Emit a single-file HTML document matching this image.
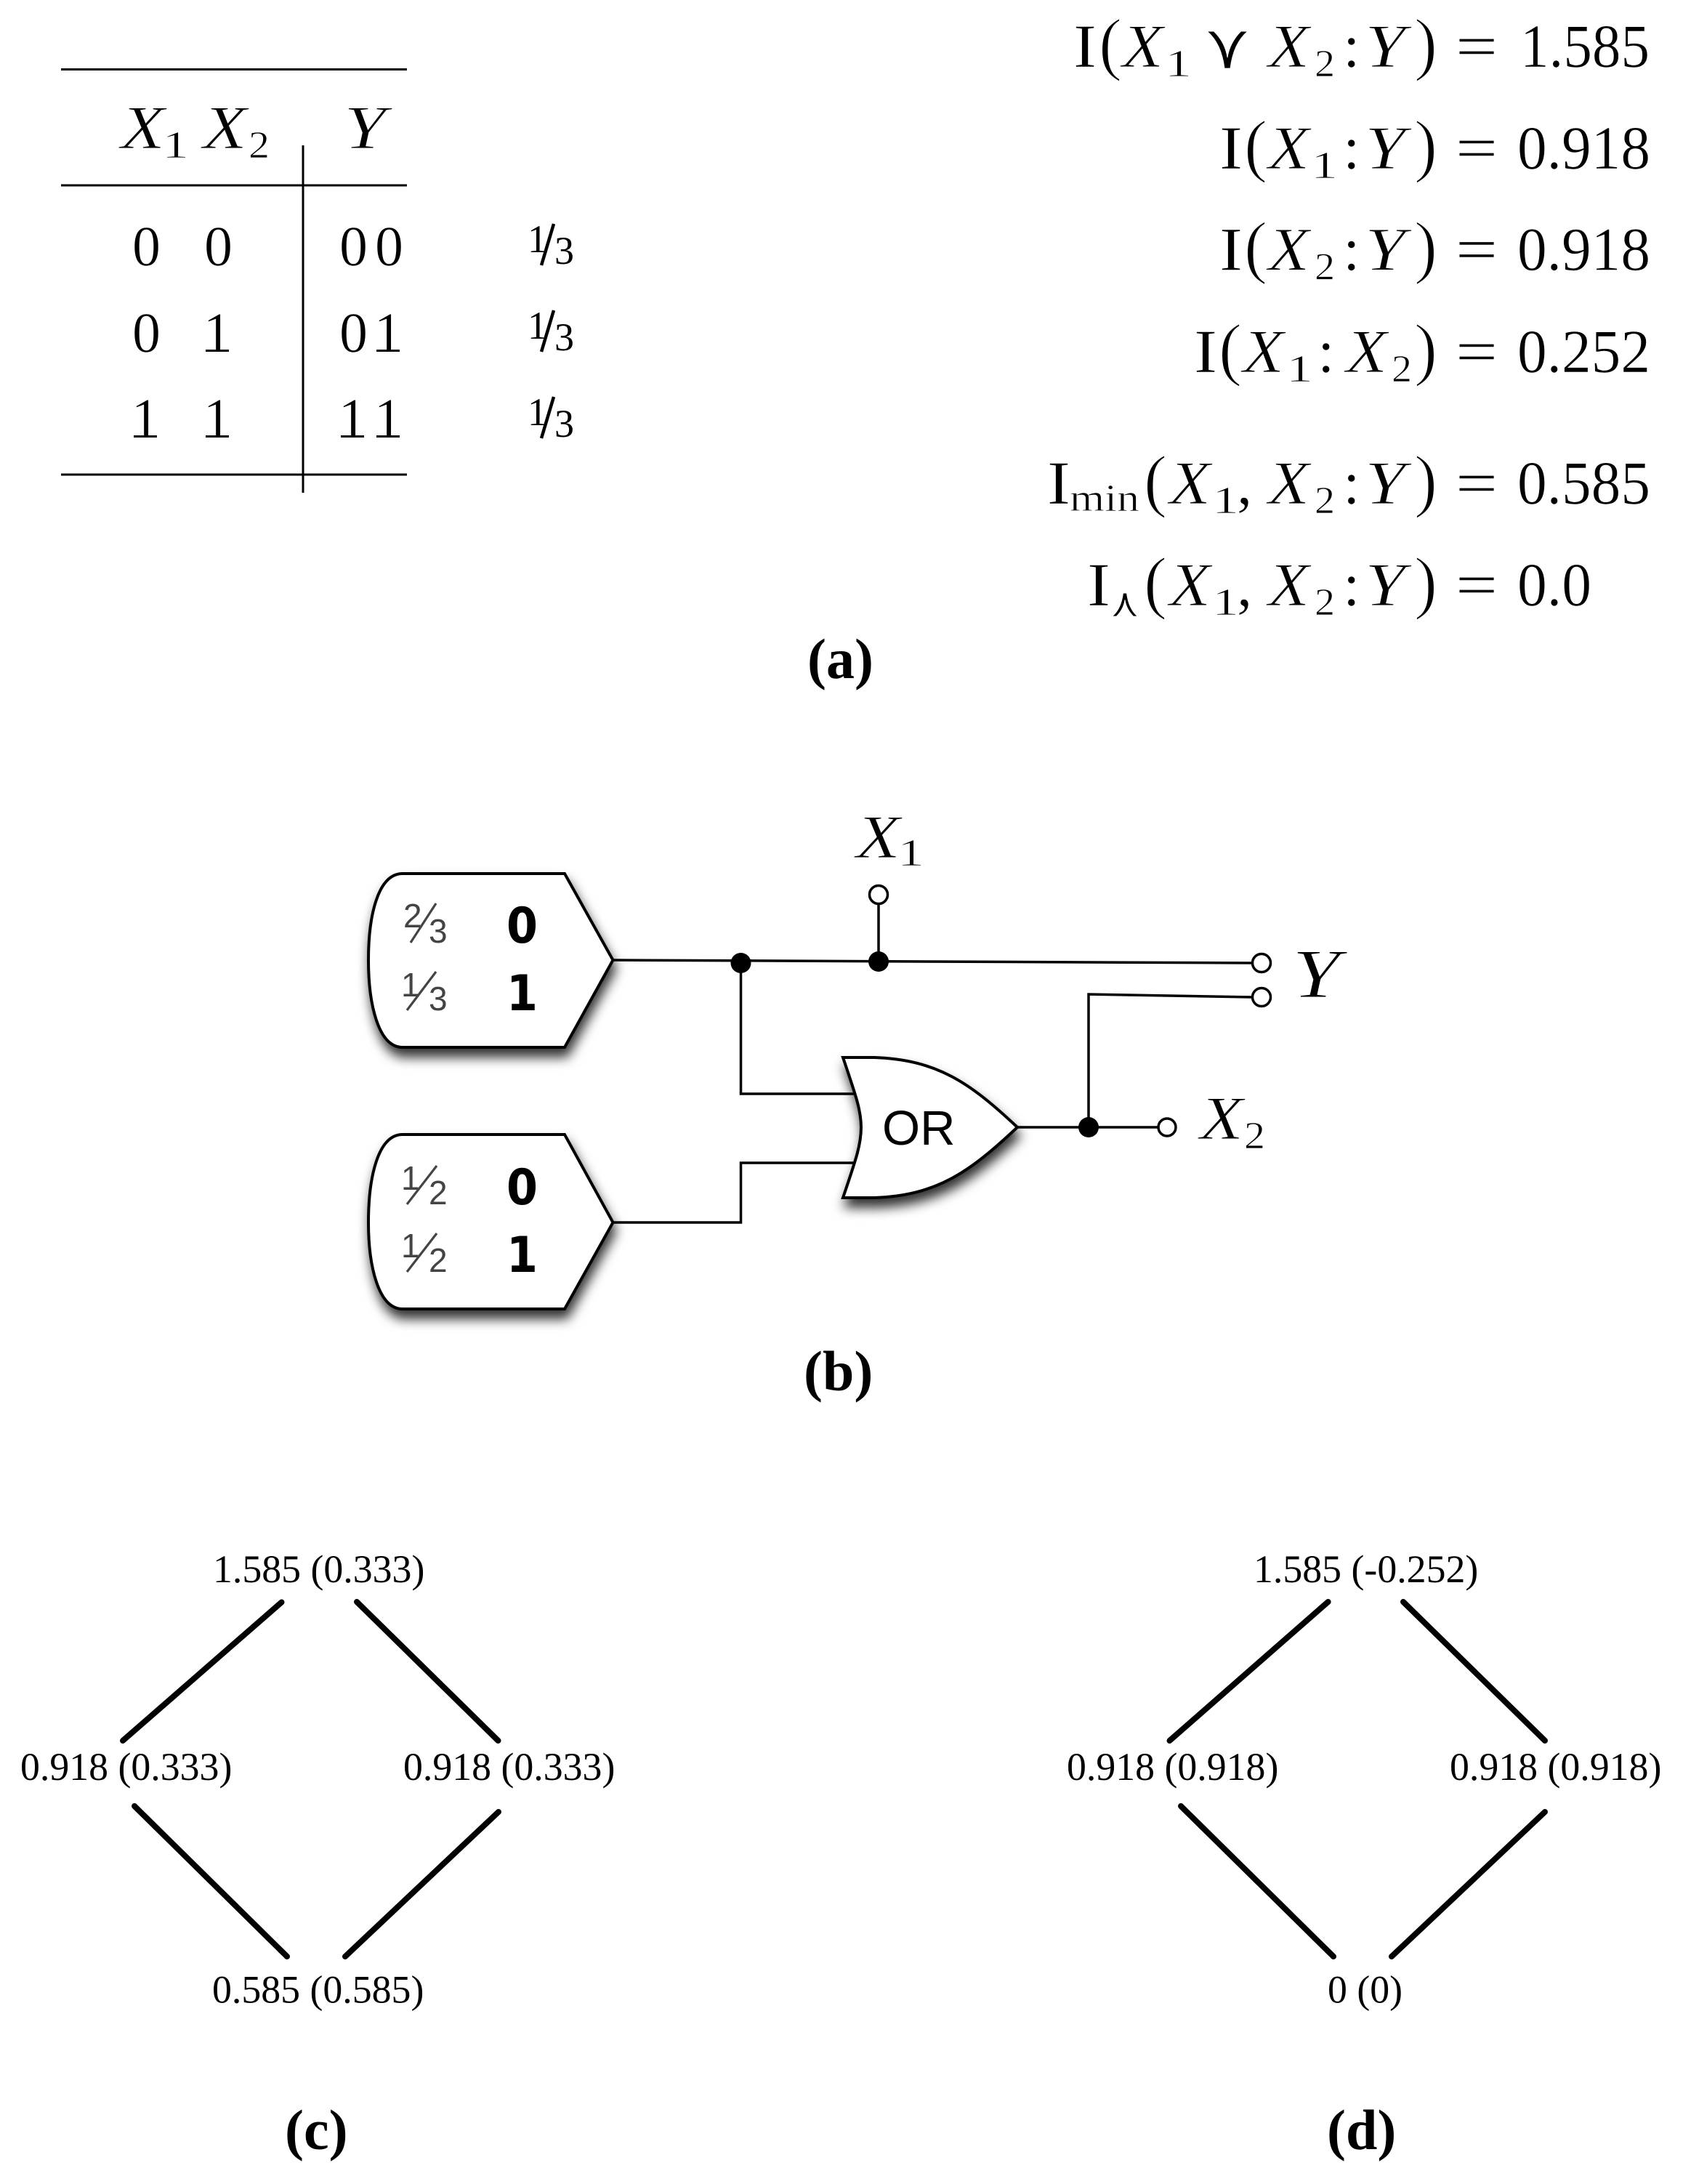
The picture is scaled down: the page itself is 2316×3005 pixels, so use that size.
<!DOCTYPE html>
<html><head><meta charset="utf-8"><style>
html,body{margin:0;padding:0;background:#fff}
svg{display:block}
text{font-family:"Liberation Serif",serif;fill:#000}
.m{font-size:85px;stroke:#fff;stroke-width:.6px}
.i{font-size:85px;font-style:italic;stroke:#fff;stroke-width:1.1px}
.s{font-size:53px;stroke:#fff;stroke-width:.8px}
.p{font-size:96px;stroke:#fff;stroke-width:1.6px}
.t{font-size:78px;stroke:#fff;stroke-width:.6px}
.l{font-size:53.8px}.b{font-size:78px;font-weight:bold}
.f{font-size:54px}
.g{font-family:"Liberation Sans",sans-serif;font-size:46px;fill:#444}
.h{font-family:"DejaVu Sans",sans-serif;font-size:68px;font-weight:bold}
.c{font-family:"DejaVu Sans",sans-serif;stroke:#fff;stroke-width:.8px}
.w{fill:none;stroke:#000;stroke-width:3.5}
.o{fill:#fff;stroke:#000;stroke-width:3.5}
.e{stroke:#000;stroke-width:8;stroke-linecap:round}
</style></head><body>
<svg width="2316" height="3005" viewBox="0 0 2316 3005" xmlns="http://www.w3.org/2000/svg">
<defs><filter id="sh" x="-20%" y="-20%" width="150%" height="150%"><feDropShadow dx="3" dy="12" stdDeviation="8" flood-color="#000" flood-opacity=".8"/></filter></defs>
<rect width="2316" height="3005" fill="#fff"/>

<!-- table -->
<g stroke="#000" stroke-width="3">
<line x1="84" y1="95.5" x2="560" y2="95.5"/>
<line x1="84" y1="255" x2="560" y2="255"/>
<line x1="84" y1="653" x2="560" y2="653"/>
<line x1="417" y1="200" x2="417" y2="678"/>
</g>
<text class="i" x="166" y="204" textLength="61" lengthAdjust="spacingAndGlyphs">X</text>
<text class="s" x="223" y="217" textLength="37" lengthAdjust="spacingAndGlyphs">1</text>
<text class="i" x="279" y="204" textLength="61" lengthAdjust="spacingAndGlyphs">X</text>
<text class="s" x="342" y="217" textLength="29" lengthAdjust="spacingAndGlyphs">2</text>
<text class="i" x="473" y="204" textLength="58" lengthAdjust="spacingAndGlyphs">Y</text>

<text class="t" x="182" y="365">0</text>
<text class="t" x="281" y="365">0</text>
<text class="t" x="467" y="365">0</text>
<text class="t" x="516" y="365">0</text>
<text class="t" x="182" y="484">0</text>
<text class="t" x="279.500" y="484">1</text>
<text class="t" x="467" y="484">0</text>
<text class="t" x="514.500" y="484">1</text>
<text class="t" x="180.500" y="602">1</text>
<text class="t" x="279.500" y="602">1</text>
<text class="t" x="465.500" y="602">1</text>
<text class="t" x="514.500" y="602">1</text>
<g stroke="#000" stroke-width="3">
<line x1="283" y1="482.500" x2="315" y2="482.500"/>
<line x1="518" y1="482.500" x2="550" y2="482.500"/>
<line x1="184" y1="600.500" x2="216" y2="600.500"/>
<line x1="283" y1="600.500" x2="315" y2="600.500"/>
<line x1="469" y1="600.500" x2="501" y2="600.500"/>
<line x1="518" y1="600.500" x2="550" y2="600.500"/>
</g>
<g stroke="#000" stroke-width="4.5">
<line x1="745" y1="365" x2="762" y2="308"/>
<line x1="745" y1="484" x2="762" y2="427"/>
<line x1="745" y1="603" x2="762" y2="546"/>
</g>
<text class="f" x="726" y="347">1</text><text class="f" x="763" y="363">3</text>
<text class="f" x="726" y="466">1</text><text class="f" x="763" y="482">3</text>
<text class="f" x="726" y="585">1</text><text class="f" x="763" y="601">3</text>

<!-- equations -->
<g transform="translate(0,92)">
<text class="m" x="1477" y="0" textLength="32" lengthAdjust="spacingAndGlyphs">I</text>
<text class="p" x="1512" y="0">(</text>
<text class="i" x="1544" y="0" textLength="57" lengthAdjust="spacingAndGlyphs">X</text>
<text class="s" x="1603" y="13" textLength="37" lengthAdjust="spacingAndGlyphs">1</text>
<text class="c" x="1657" y="2" font-size="88" textLength="64" lengthAdjust="spacingAndGlyphs">⋎</text>
<text class="i" x="1745" y="0" textLength="57" lengthAdjust="spacingAndGlyphs">X</text>
<text class="s" x="1809" y="13" textLength="28" lengthAdjust="spacingAndGlyphs">2</text>
<text class="m" x="1848" y="0">:</text>
<text class="i" x="1878" y="0" textLength="56" lengthAdjust="spacingAndGlyphs">Y</text>
<text class="p" x="1946" y="0">)</text>
<text class="m" x="2003" y="0" textLength="58" lengthAdjust="spacingAndGlyphs">=</text>
<text class="m" x="2092" y="0" textLength="178" lengthAdjust="spacingAndGlyphs">1.585</text>
</g>
<g transform="translate(0,232)">
<text class="m" x="1678" y="0" textLength="32" lengthAdjust="spacingAndGlyphs">I</text>
<text class="p" x="1712" y="0">(</text>
<text class="i" x="1745" y="0" textLength="57" lengthAdjust="spacingAndGlyphs">X</text>
<text class="s" x="1804" y="13" textLength="37" lengthAdjust="spacingAndGlyphs">1</text>
<text class="m" x="1848" y="0">:</text>
<text class="i" x="1878" y="0" textLength="56" lengthAdjust="spacingAndGlyphs">Y</text>
<text class="p" x="1946" y="0">)</text>
<text class="m" x="2003" y="0" textLength="58" lengthAdjust="spacingAndGlyphs">=</text>
<text class="m" x="2088" y="0" textLength="183" lengthAdjust="spacingAndGlyphs">0.918</text>
</g>
<g transform="translate(0,371.5)">
<text class="m" x="1678" y="0" textLength="32" lengthAdjust="spacingAndGlyphs">I</text>
<text class="p" x="1712" y="0">(</text>
<text class="i" x="1745" y="0" textLength="57" lengthAdjust="spacingAndGlyphs">X</text>
<text class="s" x="1809" y="13" textLength="28" lengthAdjust="spacingAndGlyphs">2</text>
<text class="m" x="1848" y="0">:</text>
<text class="i" x="1878" y="0" textLength="56" lengthAdjust="spacingAndGlyphs">Y</text>
<text class="p" x="1946" y="0">)</text>
<text class="m" x="2003" y="0" textLength="58" lengthAdjust="spacingAndGlyphs">=</text>
<text class="m" x="2088" y="0" textLength="183" lengthAdjust="spacingAndGlyphs">0.918</text>
</g>
<g transform="translate(0,512)">
<text class="m" x="1643" y="0" textLength="32" lengthAdjust="spacingAndGlyphs">I</text>
<text class="p" x="1677" y="0">(</text>
<text class="i" x="1710" y="0" textLength="57" lengthAdjust="spacingAndGlyphs">X</text>
<text class="s" x="1770" y="13" textLength="37" lengthAdjust="spacingAndGlyphs">1</text>
<text class="m" x="1813" y="0">:</text>
<text class="i" x="1852" y="0" textLength="57" lengthAdjust="spacingAndGlyphs">X</text>
<text class="s" x="1915" y="13" textLength="28" lengthAdjust="spacingAndGlyphs">2</text>
<text class="p" x="1946" y="0">)</text>
<text class="m" x="2003" y="0" textLength="58" lengthAdjust="spacingAndGlyphs">=</text>
<text class="m" x="2088" y="0" textLength="183" lengthAdjust="spacingAndGlyphs">0.252</text>
</g>
<g transform="translate(0,693)">
<text class="m" x="1441" y="0" textLength="32" lengthAdjust="spacingAndGlyphs">I</text>
<text class="s" x="1472" y="10" textLength="96" lengthAdjust="spacingAndGlyphs">min</text>
<text class="p" x="1574" y="0">(</text>
<text class="i" x="1609" y="0" textLength="57" lengthAdjust="spacingAndGlyphs">X</text>
<text class="s" x="1668" y="13" textLength="37" lengthAdjust="spacingAndGlyphs">1</text>
<text class="m" x="1702" y="0">,</text>
<text class="i" x="1745" y="0" textLength="57" lengthAdjust="spacingAndGlyphs">X</text>
<text class="s" x="1809" y="13" textLength="28" lengthAdjust="spacingAndGlyphs">2</text>
<text class="m" x="1848" y="0">:</text>
<text class="i" x="1878" y="0" textLength="56" lengthAdjust="spacingAndGlyphs">Y</text>
<text class="p" x="1946" y="0">)</text>
<text class="m" x="2003" y="0" textLength="58" lengthAdjust="spacingAndGlyphs">=</text>
<text class="m" x="2088" y="0" textLength="183" lengthAdjust="spacingAndGlyphs">0.585</text>
</g>
<g transform="translate(0,833)">
<text class="m" x="1496" y="0" textLength="32" lengthAdjust="spacingAndGlyphs">I</text>
<text class="c" x="1528" y="15" font-size="55" textLength="40" lengthAdjust="spacingAndGlyphs">⋏</text>
<text class="p" x="1574" y="0">(</text>
<text class="i" x="1609" y="0" textLength="57" lengthAdjust="spacingAndGlyphs">X</text>
<text class="s" x="1668" y="13" textLength="37" lengthAdjust="spacingAndGlyphs">1</text>
<text class="m" x="1702" y="0">,</text>
<text class="i" x="1745" y="0" textLength="57" lengthAdjust="spacingAndGlyphs">X</text>
<text class="s" x="1809" y="13" textLength="28" lengthAdjust="spacingAndGlyphs">2</text>
<text class="m" x="1848" y="0">:</text>
<text class="i" x="1878" y="0" textLength="56" lengthAdjust="spacingAndGlyphs">Y</text>
<text class="p" x="1946" y="0">)</text>
<text class="m" x="2003" y="0" textLength="58" lengthAdjust="spacingAndGlyphs">=</text>
<text class="m" x="2088" y="0" textLength="102" lengthAdjust="spacingAndGlyphs">0.0</text>
</g>

<text class="b" x="1111" y="933">(a)</text>

<!-- circuit wires -->
<path class="w" d="M843.5,1321 L1723,1325"/>
<path class="w" d="M1019.5,1325 V1505 H1180"/>
<path class="w" d="M843.5,1682 H1019.5 V1600 H1178"/>
<path class="w" d="M1209,1244 V1323"/>
<path class="w" d="M1400,1551 H1595"/>
<path class="w" d="M1498,1551 V1368 L1723,1372"/>

<!-- sources -->
<path d="M554,1202 L777,1202 L843.5,1321 L777,1441 L554,1441 C520,1441 507,1380 507,1321 C507,1260 520,1202 554,1202 Z" fill="#fff" stroke="#000" stroke-width="4" filter="url(#sh)"/>
<path d="M554,1561 L777,1561 L843.5,1682 L777,1801 L554,1801 C520,1801 507,1740 507,1682 C507,1620 520,1561 554,1561 Z" fill="#fff" stroke="#000" stroke-width="4" filter="url(#sh)"/>
<!-- OR gate -->
<path d="M1160,1455 L1203,1455 C1290,1458 1335,1490 1400,1551 C1335,1612 1290,1645 1203,1648 L1160,1648 C1178,1595 1185,1575 1185,1551 C1185,1528 1178,1508 1160,1455 Z" fill="#fff" stroke="#000" stroke-width="4" filter="url(#sh)"/>
<text x="1214" y="1575" style="font-family:'Liberation Sans',sans-serif;font-size:67px">OR</text>

<g stroke="#444" stroke-width="3.2">
<line x1="565" y1="1297" x2="600" y2="1243"/>
<line x1="560" y1="1390" x2="600" y2="1337"/>
<line x1="560" y1="1657" x2="601" y2="1604"/>
<line x1="560" y1="1750" x2="601" y2="1697"/>
</g>
<text class="g" x="555" y="1276">2</text><text class="g" x="590" y="1297">3</text>
<text class="g" x="552" y="1371">1</text><text class="g" x="590" y="1390">3</text>
<text class="g" x="552" y="1637">1</text><text class="g" x="590" y="1657">2</text>
<text class="g" x="552" y="1730">1</text><text class="g" x="590" y="1750">2</text>
<text class="h" x="697" y="1297" textLength="43" lengthAdjust="spacingAndGlyphs">0</text>
<text class="h" x="697" y="1390" textLength="43" lengthAdjust="spacingAndGlyphs">1</text>
<text class="h" x="697" y="1657" textLength="43" lengthAdjust="spacingAndGlyphs">0</text>
<text class="h" x="697" y="1750" textLength="43" lengthAdjust="spacingAndGlyphs">1</text>

<circle cx="1019.5" cy="1325" r="14"/>
<circle cx="1209" cy="1323" r="14"/>
<circle cx="1498" cy="1551" r="14"/>
<circle class="o" cx="1209" cy="1231" r="12.5"/>
<circle class="o" cx="1736" cy="1325" r="12.5"/>
<circle class="o" cx="1736" cy="1372" r="12.5"/>
<circle class="o" cx="1606" cy="1551" r="12"/>

<text class="i" x="1178" y="1180" textLength="61" lengthAdjust="spacingAndGlyphs">X</text>
<text class="s" x="1235" y="1191" textLength="37" lengthAdjust="spacingAndGlyphs">1</text>
<text class="i" x="1778" y="1372" style="font-size:95px" textLength="66" lengthAdjust="spacingAndGlyphs">Y</text>
<text class="i" x="1651" y="1567" textLength="60" lengthAdjust="spacingAndGlyphs">X</text>
<text class="s" x="1712" y="1580" textLength="29" lengthAdjust="spacingAndGlyphs">2</text>

<text class="b" x="1106" y="1913">(b)</text>

<!-- lattice c -->
<text class="l" x="293" y="2177">1.585 (0.333)</text>
<text class="l" x="28" y="2449">0.918 (0.333)</text>
<text class="l" x="555" y="2449">0.918 (0.333)</text>
<text class="l" x="292" y="2755.5">0.585 (0.585)</text>
<line class="e" x1="387.5" y1="2204.5" x2="169" y2="2395"/>
<line class="e" x1="491" y1="2204" x2="685.5" y2="2395"/>
<line class="e" x1="185" y1="2485" x2="395" y2="2692"/>
<line class="e" x1="686" y1="2493" x2="475" y2="2692"/>
<text class="b" x="392" y="2957">(c)</text>

<!-- lattice d -->
<text class="l" x="1725" y="2177">1.585 (-0.252)</text>
<text class="l" x="1468" y="2449">0.918 (0.918)</text>
<text class="l" x="1995" y="2449">0.918 (0.918)</text>
<text class="l" x="1827" y="2755.5">0 (0)</text>
<line class="e" x1="1827.6" y1="2204" x2="1609.5" y2="2395"/>
<line class="e" x1="1931" y1="2204" x2="2126" y2="2395"/>
<line class="e" x1="1625" y1="2485" x2="1835" y2="2692"/>
<line class="e" x1="2126" y1="2493" x2="1915" y2="2692"/>
<text class="b" x="1826" y="2957">(d)</text>
</svg>
</body></html>
